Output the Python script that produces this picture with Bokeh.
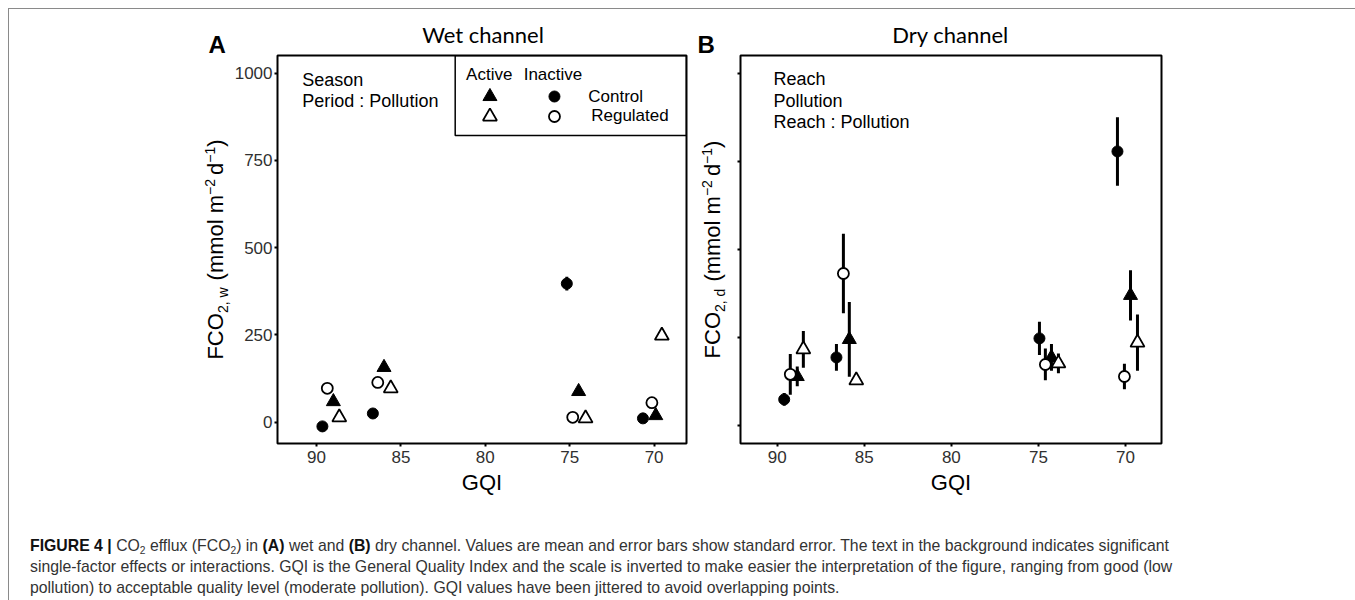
import math
from bokeh.plotting import figure
from bokeh.models import Range1d, FixedTicker, Label, BoxAnnotation, Div
from bokeh.layouts import row, column
from bokeh.embed import file_html
from bokeh.resources import INLINE

# ---------------- data ----------------
gqi_ticks = [90, 85, 80, 75, 70]
fco2_ticks = [0, 250, 500, 750, 1000]
panel_letters = ["A", "B"]
panel_titles = ["Wet channel", "Dry channel"]
legend_cols = ["Active", "Inactive"]
legend_rows = ["Control", "Regulated"]
wet_effects = ["Season", "Period : Pollution"]
dry_effects = ["Reach", "Pollution", "Reach : Pollution"]

# Wet channel (A) - jittered GQI, mean FCO2 and standard error
wet_gqi_active_control = [89.00, 86.00, 74.47, 69.90]
wet_fco2_active_control = [59, 157, 88, 19]
wet_se_active_control = [6, 7, 6, 5]
wet_gqi_inactive_control = [89.65, 86.66, 75.17, 70.66]
wet_fco2_inactive_control = [-12, 25, 397, 11]
wet_se_inactive_control = [5, 6, 20, 5]
wet_gqi_active_regulated = [88.65, 85.60, 74.06, 69.54]
wet_fco2_active_regulated = [14, 97, 11, 248]
wet_se_active_regulated = [4, 6, 3, 8]
wet_gqi_inactive_regulated = [89.36, 86.37, 74.82, 70.13]
wet_fco2_inactive_regulated = [97, 114, 14, 56]
wet_se_inactive_regulated = [5, 6, 4, 6]

# Dry channel (B)
dry_gqi_active_control = [88.85, 85.86, 74.25, 69.71]
dry_fco2_active_control = [140, 245, 194, 370]
dry_se_active_control = [28, 106, 38, 71]
dry_gqi_inactive_control = [89.60, 86.60, 74.94, 70.46]
dry_fco2_inactive_control = [75, 194, 248, 778]
dry_se_inactive_control = [18, 38, 47, 97]
dry_gqi_active_regulated = [88.50, 85.46, 73.85, 69.31]
dry_fco2_active_regulated = [217, 129, 177, 236]
dry_se_active_regulated = [52, 8, 28, 80]
dry_gqi_inactive_regulated = [89.25, 86.20, 74.60, 70.06]
dry_fco2_inactive_regulated = [146, 432, 174, 140]
dry_se_inactive_regulated = [58, 113, 45, 36]

wet = {
    "Active Control": (wet_gqi_active_control, wet_fco2_active_control, wet_se_active_control),
    "Inactive Control": (wet_gqi_inactive_control, wet_fco2_inactive_control, wet_se_inactive_control),
    "Active Regulated": (wet_gqi_active_regulated, wet_fco2_active_regulated, wet_se_active_regulated),
    "Inactive Regulated": (wet_gqi_inactive_regulated, wet_fco2_inactive_regulated, wet_se_inactive_regulated),
}
dry = {
    "Active Control": (dry_gqi_active_control, dry_fco2_active_control, dry_se_active_control),
    "Inactive Control": (dry_gqi_inactive_control, dry_fco2_inactive_control, dry_se_inactive_control),
    "Active Regulated": (dry_gqi_active_regulated, dry_fco2_active_regulated, dry_se_active_regulated),
    "Inactive Regulated": (dry_gqi_inactive_regulated, dry_fco2_inactive_regulated, dry_se_inactive_regulated),
}

# ---------------- styles / geometry (page pixels) ----------------
STYLE = {
    "Active Control": dict(marker="triangle", fill_color="black", size=14, line_width=1),
    "Inactive Control": dict(marker="circle", fill_color="black", size=11, line_width=1),
    "Active Regulated": dict(marker="triangle", fill_color="white", size=14, line_width=1.8),
    "Inactive Regulated": dict(marker="circle", fill_color="white", size=11, line_width=1.8),
}
DRAW_ORDER = ["Active Control", "Inactive Control", "Active Regulated", "Inactive Regulated"]
FONT = "Liberation Sans"
X0, Y0 = 9, 9
ROW_TOP = 53
ROW_H = 447              # 53..500
FULL_H = ROW_TOP + ROW_H - Y0
FRAME_TOP, FRAME_BOTTOM = 55, 443
# distance from the text-box centre (where Bokeh anchors) to the alphabetic baseline, per em
BASE_K = {"Liberation Sans": 0.3465, "Lato": 0.387}

ADV = {'F': .611, 'C': .722, 'O': .778, '2': .556, ',': .278, ' ': .278, 'w': .722,
       'd': .556, '(': .333, ')': .333, 'm': .833, 'o': .556, 'l': .222, '\u2212': .584, '1': .556}


def text_w(s, size):
    return sum(ADV.get(c, .556) for c in s) * size


def add_text(p, x, y, text, size, font=FONT, align="left", style="normal", angle=0.0, color="black"):
    p.add_layout(Label(x=x, y=y, text=text, text_font=font, text_font_size=f"{size}px",
                       text_font_style=style, text_align=align, text_baseline="middle",
                       angle=angle, text_color=color))


def blank_fig(left, width, top, height, x_span=None):
    """Figure whose data coordinates are page pixels (y down).
    x_span = page-x extent of the plot frame when Bokeh aligns it with a panel below."""
    xs = x_span if x_span is not None else (left, left + width)
    p = figure(width=width, height=height, x_range=Range1d(*xs),
               y_range=Range1d(top + height, top), x_axis_type=None, y_axis_type=None,
               output_backend="svg", toolbar_location=None, title=None,
               min_border_left=0, min_border_right=0, min_border_top=0, min_border_bottom=0)
    p.xgrid.visible = False
    p.ygrid.visible = False
    p.outline_line_color = None
    p.background_fill_color = "white"
    p.border_fill_color = "white"
    return p


def page_text(p, px, base_py, text, size, font=FONT, **kw):
    """Horizontal text in a page-pixel figure, given its baseline."""
    add_text(p, px, base_py - BASE_K[font] * size, text, size, font=font, **kw)


def make_panel(data, fig_left, width, frame_left, frame_right, xr, yr, show_ylabels):
    p = figure(width=width, height=ROW_H, x_range=Range1d(*xr), y_range=Range1d(*yr),
               output_backend="svg", toolbar_location=None, title=None,
               min_border_left=frame_left - fig_left,
               min_border_right=fig_left + width - frame_right,
               min_border_top=FRAME_TOP - ROW_TOP,
               min_border_bottom=ROW_TOP + ROW_H - FRAME_BOTTOM)
    p.xgrid.visible = False
    p.ygrid.visible = False
    p.background_fill_color = "white"
    p.border_fill_color = "white"
    p.outline_line_color = "black"
    p.outline_line_width = 2
    p.outline_line_alpha = 1
    for ax in (p.xaxis, p.yaxis):
        ax.axis_line_color = None
        ax.major_tick_line_color = "black"
        ax.major_tick_line_width = 2
        ax.major_tick_out = 3
        ax.major_tick_in = 0
        ax.minor_tick_line_color = None
        ax.major_label_text_font = FONT
        ax.major_label_text_font_size = "17px"
        ax.major_label_text_color = "#303030"
    p.xaxis.ticker = FixedTicker(ticks=gqi_ticks)
    p.yaxis.ticker = FixedTicker(ticks=fco2_ticks)
    p.xaxis.major_label_standoff = 4
    p.yaxis.major_label_standoff = 2
    p.xaxis.axis_label = "GQI"
    p.xaxis.axis_label_text_font = FONT
    p.xaxis.axis_label_text_font_style = "normal"
    p.xaxis.axis_label_text_font_size = "22px"
    p.xaxis.axis_label_text_color = "black"
    p.xaxis.axis_label_standoff = 4
    if not show_ylabels:
        p.yaxis.major_label_overrides = {t: "" for t in fco2_ticks}

    for g in DRAW_ORDER:
        gx, gy, se = data[g]
        p.segment(x0=gx, x1=gx, y0=[v - e for v, e in zip(gy, se)],
                  y1=[v + e for v, e in zip(gy, se)], line_color="black", line_width=3)
    for g in DRAW_ORDER:
        gx, gy, se = data[g]
        st = STYLE[g]
        p.scatter(x=gx, y=gy, marker=st["marker"], size=st["size"], fill_color=st["fill_color"],
                  line_color="black", line_width=st["line_width"])

    def fx(px):
        return xr[0] + (px - frame_left) / (frame_right - frame_left) * (xr[1] - xr[0])

    def fy(py):
        return yr[1] - (py - FRAME_TOP) / (FRAME_BOTTOM - FRAME_TOP) * (yr[1] - yr[0])

    def text_at(px, base_py, text, size, **kw):
        add_text(p, fx(px), fy(base_py - BASE_K[FONT] * size), text, size, **kw)

    return p, fx, fy, text_at


def add_ylabel(p, base_px, sub_letter):
    """Rotated label FCO2,x (mmol m-2 d-1) with real sub/superscript sizes.
    Each piece is anchored at its own centre."""
    big, small = 22, 14
    # text, size, baseline offset (px, + = down in text frame), gap before (px)
    segs = [("FCO", big, 0, 0), ("2, " + sub_letter, small, 4, 0), ("(mmol m", big, 0, 7),
            ("\u22122", small, -9, 0), ("d", big, 0, 4), ("\u22121", small, -9, 0), (")", big, 0, 0)]
    total = sum(text_w(s, sz) + gap for s, sz, _, gap in segs)
    y = (FRAME_TOP + FRAME_BOTTOM) / 2 + total / 2
    for s, sz, off, gap in segs:
        y -= gap
        w = text_w(s, sz)
        add_text(p, base_px + off - BASE_K[FONT] * sz, y - w / 2, s, sz, align="center",
                 angle=math.pi / 2)
        y -= w


# ---------------- panel A ----------------
labA = blank_fig(X0, 222, Y0, FULL_H)                              # x 9..231, y 9..500
page_text(labA, 208, 52, panel_letters[0], 24, style="bold")
add_ylabel(labA, 223, "w")
headA = blank_fig(231, 459, Y0, ROW_TOP - Y0, x_span=(274, 686))   # frame aligned with pA's
page_text(headA, 481, 43, panel_titles[0], 22, font="Lato", align="center")
pA, fxA, fyA, textA = make_panel(wet, 231, 459, 274, 686, (92.31, 68.08), (-61, 1050.5), True)
for i, t in enumerate(wet_effects):
    textA(299, 86 + 21 * i, t, 18)
pA.add_layout(BoxAnnotation(left=fxA(453), bottom=fyA(135), fill_alpha=0,
                            line_color="black", line_width=1.5, line_alpha=1))
textA(464, 80, legend_cols[0], 17)
textA(522, 80, legend_cols[1], 17)
textA(587, 101.5, legend_rows[0], 17)
textA(590, 120.5, legend_rows[1], 17)
for key, (kx, ky) in {"Active Control": (488, 96), "Inactive Control": (553, 96),
                      "Active Regulated": (488, 116), "Inactive Regulated": (553, 116)}.items():
    st = STYLE[key]
    pA.scatter(x=[fxA(kx)], y=[fyA(ky)], marker=st["marker"], size=st["size"],
               fill_color=st["fill_color"], line_color="black", line_width=st["line_width"])

# ---------------- panel B ----------------
labB = blank_fig(690, 38, Y0, FULL_H)                              # x 690..728
page_text(labB, 697, 52, panel_letters[1], 24, style="bold")
add_ylabel(labB, 720, "d")
headB = blank_fig(728, 625, Y0, ROW_TOP - Y0, x_span=(740, 1161))  # frame aligned with pB's
page_text(headB, 950, 43, panel_titles[1], 22, font="Lato", align="center")
pB, fxB, fyB, textB = make_panel(dry, 728, 625, 740, 1161, (92.11, 67.93), (-50, 1050), False)
for i, t in enumerate(dry_effects):
    textB(773, 85 + 21.5 * i, t, 18)

# ---------------- caption ----------------
sub = "<sub style='font-size:11px;line-height:0;vertical-align:-3px'>2</sub>"
cap_style = ("font-family:'Liberation Sans',Arial,sans-serif;font-size:17px;line-height:21px;"
             "color:#333;white-space:nowrap;transform:scaleX(0.93);transform-origin:0 0;")
caption = (f"<div style='padding:30px 0 0 16px;'><div style=\"{cap_style}\">"
           "<b style='color:#111'>FIGURE 4</b> <b style='color:#111'>|</b> "
           f"CO{sub} efflux (FCO{sub}) in <b style='color:#111'>(A)</b> wet and <b style='color:#111'>(B)</b> dry channel. "
           "Values are mean and error bars show standard error. The text in the background indicates significant<br>"
           "single-factor effects or interactions. GQI is the General Quality Index and the scale is inverted to make "
           "easier the interpretation of the figure, ranging from good (low<br>"
           "pollution) to acceptable quality level (moderate pollution). GQI values have been jittered to avoid "
           "overlapping points.</div></div>")
cap = Div(text=caption, width=1344, height=98)

top_row = row(labA, column(headA, pA), labB, column(headB, pB))
layout = column(top_row, cap,
                styles={"border": "1px solid #8a8a8a", "background": "white", "margin": "8px 0 0 8px",
                        "box-sizing": "content-box"})

open("out.html", "w").write(file_html(layout, INLINE))
